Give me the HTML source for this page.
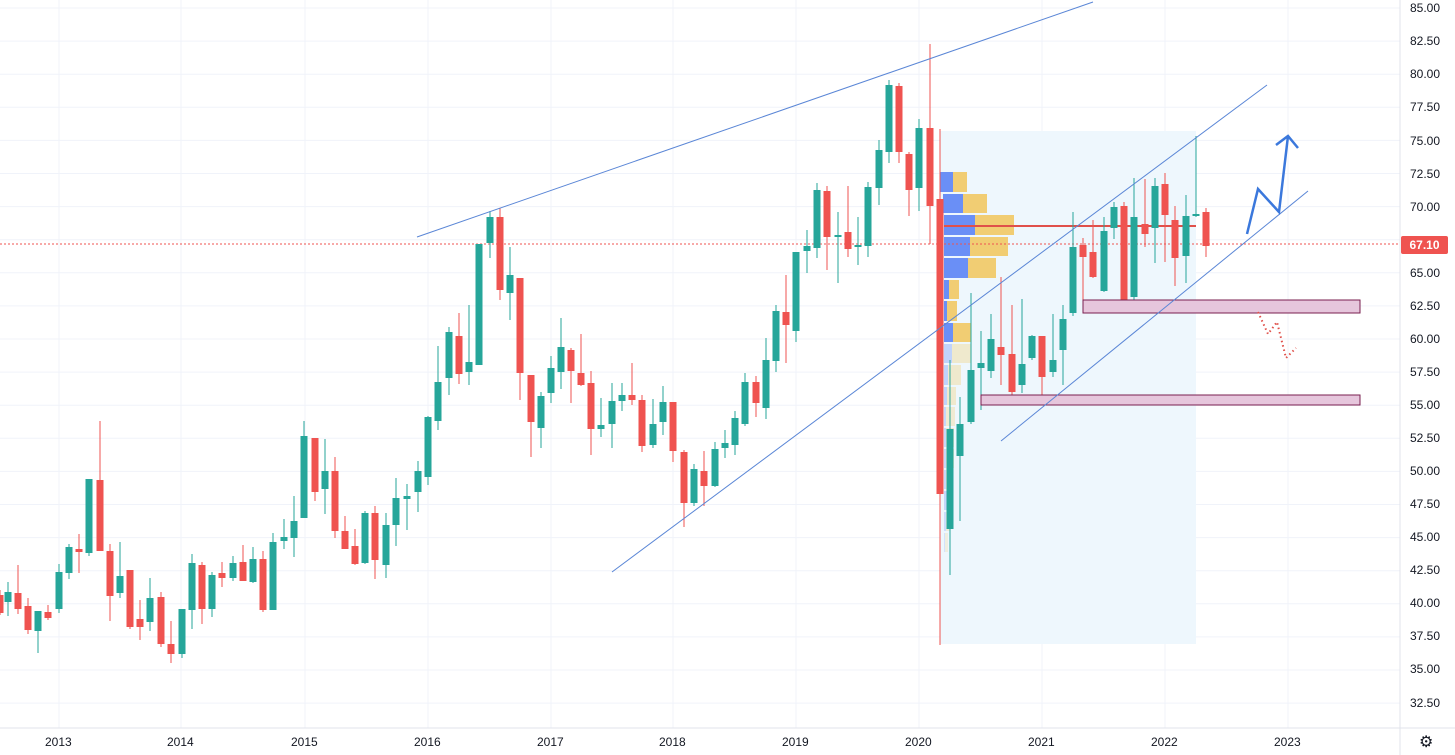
<!DOCTYPE html>
<html><head><meta charset="utf-8"><style>
html,body{margin:0;padding:0;background:#fff;}
#w{position:relative;width:1455px;height:755px;overflow:hidden;font-family:"Liberation Sans",sans-serif;}
.pl{position:absolute;left:1410px;font-size:12px;color:#131722;line-height:14px;}
.yl{position:absolute;top:735px;font-size:12px;color:#131722;}
svg{position:absolute;left:0;top:0;}
</style></head><body><div id="w">
<svg id="s" width="1455" height="755" xmlns="http://www.w3.org/2000/svg"></svg>
<div class="pl" style="top:1px">85.00</div>
<div class="pl" style="top:34px">82.50</div>
<div class="pl" style="top:67px">80.00</div>
<div class="pl" style="top:100px">77.50</div>
<div class="pl" style="top:134px">75.00</div>
<div class="pl" style="top:167px">72.50</div>
<div class="pl" style="top:200px">70.00</div>
<div class="pl" style="top:266px">65.00</div>
<div class="pl" style="top:299px">62.50</div>
<div class="pl" style="top:332px">60.00</div>
<div class="pl" style="top:365px">57.50</div>
<div class="pl" style="top:398px">55.00</div>
<div class="pl" style="top:431px">52.50</div>
<div class="pl" style="top:464px">50.00</div>
<div class="pl" style="top:497px">47.50</div>
<div class="pl" style="top:530px">45.00</div>
<div class="pl" style="top:563px">42.50</div>
<div class="pl" style="top:596px">40.00</div>
<div class="pl" style="top:629px">37.50</div>
<div class="pl" style="top:662px">35.00</div>
<div class="pl" style="top:696px">32.50</div>
<div style="position:absolute;left:1401px;top:236px;width:47px;height:18px;background:#ef5350;color:#fff;font-size:12px;font-weight:bold;line-height:18px;text-align:center;border-radius:2px">67.10</div>
<div class="yl" style="left:45px">2013</div>
<div class="yl" style="left:167px">2014</div>
<div class="yl" style="left:291px">2015</div>
<div class="yl" style="left:414px">2016</div>
<div class="yl" style="left:537px">2017</div>
<div class="yl" style="left:659px">2018</div>
<div class="yl" style="left:782px">2019</div>
<div class="yl" style="left:905px">2020</div>
<div class="yl" style="left:1028px">2021</div>
<div class="yl" style="left:1151px">2022</div>
<div class="yl" style="left:1274px">2023</div>
<div style="position:absolute;left:1419px;top:732px;font-size:16px;color:#131722">⚙</div>
</div>
<script>
var s=document.getElementById('s'),h='';
function L(x1,y1,x2,y2,c,w,d){h+='<line x1="'+x1+'" y1="'+y1+'" x2="'+x2+'" y2="'+y2+'" stroke="'+c+'" stroke-width="'+(w||1)+'"'+(d?' stroke-dasharray="'+d+'"':'')+'/>';}
function R(x,y,w,hh,f,extra){h+='<rect x="'+x+'" y="'+y+'" width="'+w+'" height="'+hh+'" fill="'+f+'" '+(extra||'')+'/>';}
for(var k=0;k<=21;k++){var y=8+k*33.1;L(0,y,1400,y,'#f0f3fa');}
[59,181,305,428,551,673,796,919,1042,1165,1288].forEach(function(x){L(x,0,x,728,'#f0f3fa');});
L(1400,0,1400,755,'#e0e3eb');L(0,728,1455,728,'#e0e3eb');
R(940,131,256,513,'#eef7fd');
var vp=[[172,193,940,953,967,1],[194,214,943,963,987,1],[215,236,944,975,1014,1],[237,257,944,970,1008,1],[258,279,944,968,996,1],[280,300,944,949,959,1],[301,322,944,947,957,1],[323,343,944,953,971,1],[344,364,944,952,971,.35],[365,386,944,948,961,.35],[387,406,944,947,956,.35],[407,427,944,946,955,.3],[428,448,944,946,954,.3],[449,469,944,946,954,.3],[470,490,944,946,952,.3],[491,511,944,947,951,.3],[512,532,944,946,950,.25],[533,553,944,945,948,.2]];
vp.forEach(function(r){R(r[2],r[0],r[3]-r[2],r[1]-r[0]-1,'#6a8ff6','opacity="'+r[5]+'"');R(r[3],r[0],r[4]-r[3],r[1]-r[0]-1,'#f1cd73','opacity="'+r[5]+'"');});
L(944,226,1196,226,'#e0504a',2);
L(0,244,1400,244,'#ef5350',1,'2,2');
var G='#26a69a',D='#ef5350';
var c=[[0,590,595,613,615,D],[8,582,592,602,616,G],[18,565,593,609,614,D],[28,598,606,630,634,D],[38,611,611,631,653,G],[48,605,612,618,620,D],[59,564,572,609,613,G],[69,544,547,573,579,G],[79,534,549,552,573,D],[89,479,479,553,556,G],[100,421,480,551,551,D],[110,544,551,596,621,D],[120,542,576,593,598,G],[130,570,570,627,629,D],[140,600,619,627,640,D],[150,578,598,622,631,G],[161,592,597,644,647,D],[171,621,644,654,663,D],[182,609,609,654,658,G],[192,554,563,610,629,G],[202,562,565,609,624,D],[212,572,575,609,617,G],[222,562,573,578,587,D],[233,556,563,578,581,G],[243,545,562,581,581,D],[253,547,559,582,583,G],[263,551,559,610,612,D],[273,533,542,610,610,G],[284,519,537,541,549,G],[294,496,521,538,557,G],[304,421,436,518,518,G],[315,438,438,492,501,D],[325,439,471,489,514,G],[335,457,471,531,538,D],[345,516,531,549,549,D],[355,529,546,564,565,D],[365,511,513,563,564,G],[375,506,513,560,579,D],[386,513,525,565,578,G],[396,478,498,525,546,G],[407,484,496,499,530,G],[418,461,471,492,512,G],[428,416,417,477,485,G],[438,346,382,421,430,G],[449,327,332,378,395,G],[459,313,336,374,384,D],[469,305,362,372,385,G],[479,244,244,365,365,G],[490,211,217,243,258,G],[500,208,217,290,300,D],[510,247,275,293,320,G],[520,278,278,373,400,D],[531,375,375,422,457,D],[541,392,396,428,448,G],[551,356,368,393,403,G],[561,318,347,372,389,G],[571,348,350,371,403,D],[581,334,373,385,386,D],[591,371,383,429,455,D],[601,398,425,429,437,G],[612,383,401,424,448,G],[622,383,395,401,411,G],[632,363,395,400,405,D],[642,395,400,446,452,D],[653,399,424,445,448,G],[663,386,402,422,435,G],[673,402,402,451,462,D],[684,450,452,503,527,D],[694,464,469,503,506,G],[704,451,471,486,506,D],[715,442,449,486,487,G],[725,430,443,448,458,G],[735,411,418,445,455,G],[745,373,382,424,426,G],[756,376,382,403,417,D],[766,338,360,408,419,G],[776,305,311,361,372,G],[786,275,312,325,363,D],[796,252,252,331,342,G],[807,230,246,251,273,G],[817,183,190,248,258,G],[827,186,191,237,270,D],[838,212,235,237,283,G],[848,186,232,249,257,D],[858,217,245,247,265,G],[868,182,187,246,257,G],[879,140,150,188,205,G],[889,80,85,152,163,G],[899,83,86,152,163,D],[909,152,154,190,216,D],[919,119,128,188,211,G],[930,44,128,206,244,D],[940,129,199,494,645,D],[950,360,429,529,575,G],[960,397,424,456,521,G],[971,293,370,422,424,G],[981,331,363,368,410,G],[991,314,339,371,378,G],[1001,277,347,355,385,D],[1012,305,354,392,401,D],[1022,299,364,385,393,G],[1032,335,336,358,360,G],[1042,336,336,377,401,D],[1053,314,360,372,377,G],[1063,305,319,350,385,G],[1073,212,247,313,316,G],[1083,238,245,257,313,D],[1093,220,252,277,278,D],[1104,217,231,291,292,G],[1114,202,207,228,239,G],[1124,202,206,301,302,D],[1134,178,217,297,300,G],[1145,179,224,234,247,D],[1155,178,186,228,263,G],[1165,173,184,215,262,D],[1175,206,220,258,286,D],[1186,195,216,256,283,G],[1196,136,214,216,217,G],[1206,208,212,246,257,D]];
c.forEach(function(d){L(d[0],d[1],d[0],d[4],d[5],1);R(d[0]-3.5,d[2],7,Math.max(2,d[3]-d[2]),d[5]);});
R(1083,300,277,13,'#e6c6dc','stroke="#7a1f4f" stroke-width="1"');
R(981,395,379,10,'#e6c6dc','stroke="#7a1f4f" stroke-width="1"');
var T='#5a86d6';
L(417,237,1093,2,T);L(612,572,1267,85,T);L(1001,441,1308,191,T);
h+='<polyline points="1247,234 1258,189 1279,212 1288,136" fill="none" stroke="#3b78dc" stroke-width="2.5"/>';
h+='<polyline points="1276,145 1288,136 1298,148" fill="none" stroke="#3b78dc" stroke-width="2.5"/>';
h+='<polyline points="1258,312 1268,334 1277,322 1286,358 1296,348" fill="none" stroke="#e0504a" stroke-width="2" stroke-dasharray="1.5,3"/>';
s.innerHTML=h;
</script>
</body></html>
